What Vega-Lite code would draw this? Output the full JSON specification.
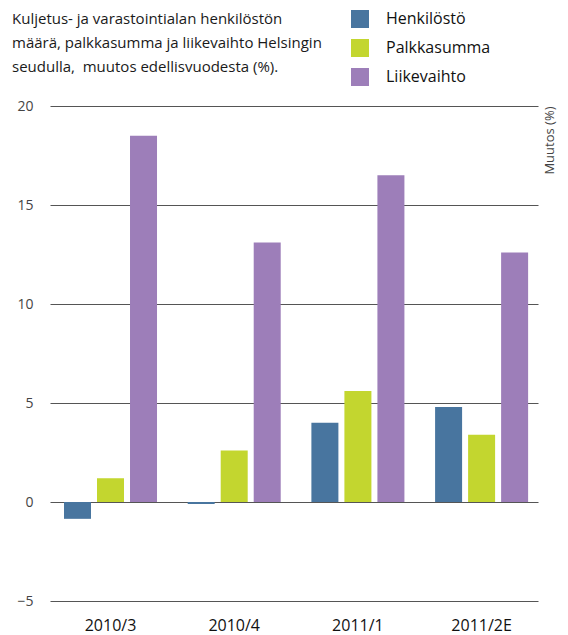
{
  "$schema": "https://vega.github.io/schema/vega-lite/v6.json",
  "autosize": "none",
  "width": 488,
  "height": 495,
  "padding": {"left": 50, "top": 106, "right": 30, "bottom": 34},
  "background": "white",
  "config": {"view": {"stroke": null}, "font": "Open Sans"},
  "title": {
    "text": ["Kuljetus- ja varastointialan henkilöstön", "määrä, palkkasumma ja liikevaihto Helsingin", "seudulla,\u00a0 muutos edellisvuodesta (%)."],
    "anchor": "start",
    "frame": "group",
    "dx": -38,
    "offset": 32,
    "dy": 97,
    "fontSize": 15,
    "lineHeight": 24,
    "font": "Open Sans",
    "fontWeight": "normal",
    "color": "#1a1a1a"
  },
  "data": {
    "values": [
      {"period": "2010/3", "series": "Henkilöstö", "value": -0.85},
      {"period": "2010/3", "series": "Palkkasumma", "value": 1.2},
      {"period": "2010/3", "series": "Liikevaihto", "value": 18.5},
      {"period": "2010/4", "series": "Henkilöstö", "value": -0.1},
      {"period": "2010/4", "series": "Palkkasumma", "value": 2.6},
      {"period": "2010/4", "series": "Liikevaihto", "value": 13.1},
      {"period": "2011/1", "series": "Henkilöstö", "value": 4.0},
      {"period": "2011/1", "series": "Palkkasumma", "value": 5.6},
      {"period": "2011/1", "series": "Liikevaihto", "value": 16.5},
      {"period": "2011/2E", "series": "Henkilöstö", "value": 4.8},
      {"period": "2011/2E", "series": "Palkkasumma", "value": 3.4},
      {"period": "2011/2E", "series": "Liikevaihto", "value": 12.6}
    ]
  },
  "mark": {"type": "bar"},
  "encoding": {
    "x": {
      "field": "period",
      "type": "nominal",
      "sort": null,
      "scale": {"paddingInner": 0.248, "paddingOuter": 0.0965, "align": 0.586},
      "axis": {
        "title": null,
        "labelAngle": 0,
        "domain": false,
        "ticks": false,
        "labelPadding": 16,
        "labelFontSize": 16,
        "labelColor": "#111111",
        "labelFont": "Open Sans"
      }
    },
    "xOffset": {
      "field": "series",
      "type": "nominal",
      "sort": ["Henkilöstö", "Palkkasumma", "Liikevaihto"],
      "scale": {"paddingInner": 0.182, "paddingOuter": 0}
    },
    "y": {
      "field": "value",
      "type": "quantitative",
      "scale": {"domain": [-5, 20], "nice": false},
      "axis": {
        "values": [-5, 0, 5, 10, 15, 20],
        "title": "Muutos  (%)",
        "titleAngle": -90,
        "titleX": 506,
        "titleY": 0,
        "titleAlign": "right",
        "titleBaseline": "bottom",
        "titleFontSize": 13,
        "titleFontWeight": "normal",
        "titleColor": "#444444",
        "titleFont": "Open Sans",
        "domain": false,
        "ticks": false,
        "grid": true,
        "gridColor": "#555555",
        "gridWidth": 1,
        "gridOpacity": 1,
        "labelPadding": 17,
        "labelFontSize": 14,
        "labelColor": "#444444",
        "labelFont": "Open Sans"
      }
    },
    "color": {
      "field": "series",
      "type": "nominal",
      "sort": ["Henkilöstö", "Palkkasumma", "Liikevaihto"],
      "scale": {
        "domain": ["Henkilöstö", "Palkkasumma", "Liikevaihto"],
        "range": ["#48759f", "#c3d62f", "#9d7eb9"]
      },
      "legend": {
        "title": null,
        "orient": "none",
        "legendX": 301,
        "legendY": -96,
        "symbolType": "square",
        "symbolSize": 324,
        "symbolStrokeWidth": 0,
        "symbolOpacity": 1,
        "labelFontSize": 16,
        "labelFont": "Open Sans",
        "labelColor": "#111111",
        "labelOffset": 17,
        "rowPadding": 11
      }
    }
  }
}
